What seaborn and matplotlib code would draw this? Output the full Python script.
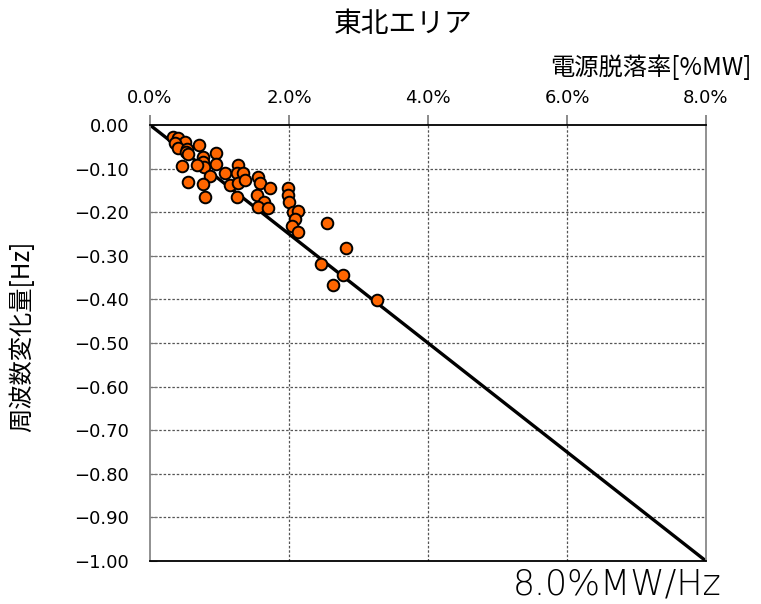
import numpy as np
import pandas as pd
import seaborn as sns
import matplotlib.pyplot as plt
from matplotlib.ticker import FuncFormatter, MultipleLocator

# 電源脱落率 [%MW] と 周波数変化量 [Hz]
drop_rate = [0.335, 0.407, 0.504, 0.360, 0.407, 0.528, 0.514, 0.551, 0.709, 0.767,
             0.767, 0.945, 0.945, 0.781, 0.672, 0.456, 1.079, 0.863, 1.151, 0.551,
             0.767, 0.791, 1.262, 1.247, 1.342, 1.270, 1.367, 1.247, 1.550, 1.583,
             1.727, 1.535, 1.645, 1.558, 1.702, 1.981, 1.981, 2.000, 2.062, 2.134,
             2.086, 2.039, 2.134, 2.542, 2.820, 2.456, 2.773, 2.637, 3.262]
freq_change = [-0.027, -0.029, -0.038, -0.042, -0.052, -0.055, -0.061, -0.067, -0.047, -0.073,
               -0.084, -0.065, -0.090, -0.096, -0.092, -0.093, -0.111, -0.116, -0.138, -0.130,
               -0.136, -0.164, -0.092, -0.111, -0.111, -0.132, -0.126, -0.164, -0.119, -0.134,
               -0.145, -0.161, -0.176, -0.187, -0.191, -0.145, -0.161, -0.177, -0.199, -0.197,
               -0.216, -0.232, -0.245, -0.224, -0.283, -0.319, -0.344, -0.367, -0.401]

# 系統定数 8.0 %MW/Hz の直線
system_constant = 8.0
line_x = [0.0, 8.0]

x_ticks = [0, 2, 4, 6, 8]
title = "東北エリア"
x_label = "電源脱落率[%MW]"
y_label = "周波数変化量[Hz]"
line_label = "8.0%MW/Hz"

df = pd.DataFrame({"rate": drop_rate, "df": freq_change})
line_df = pd.DataFrame({"rate": line_x, "df": [-v / system_constant for v in line_x]})

sns.set_style("white")
plt.rcParams['font.family'] = ['Noto Sans CJK JP', 'DejaVu Sans']
plt.rcParams['text.color'] = 'black'
plt.rcParams['xtick.labelcolor'] = 'black'
plt.rcParams['ytick.labelcolor'] = 'black'

fig = plt.figure(figsize=(7.61, 6.04), dpi=100)
ax = fig.add_axes([150 / 761, 1 - 561 / 604, 556 / 761, 436 / 604])

# グリッド（破線）
for v in [2, 4, 6]:
    ax.axvline(v, color='#555555', linestyle=(0, (2, 1.5)), linewidth=0.9, zorder=0)
for v in np.arange(1, 10) * -0.1:
    ax.axhline(v, color='#555555', linestyle=(0, (2, 1.5)), linewidth=0.9, zorder=0)

sns.lineplot(data=line_df, x="rate", y="df", color='black', linewidth=2.4, ax=ax, zorder=2)
sns.scatterplot(data=df, x="rate", y="df", color='#FF6600', edgecolor='black',
                linewidth=1.4, s=70, ax=ax, zorder=3)

ax.set_xlim(0, 8)
ax.set_ylim(-1.0, 0.0)
ax.set_xticks(x_ticks)
ax.xaxis.tick_top()
ax.xaxis.set_major_formatter(FuncFormatter(lambda v, p: f"{v:.1f}%"))
ax.yaxis.set_major_locator(MultipleLocator(0.1))


def fmt_y(v, p):
    s = f"{v:.2f}"
    if s == "-0.00":
        s = "0.00"
    return s.replace('-', '\u2212')


ax.yaxis.set_major_formatter(FuncFormatter(fmt_y))
ax.tick_params(axis='x', direction='out', length=7, color='#777777', width=1.2,
               labelsize=13, pad=6, top=True, bottom=False, labelcolor='black')
ax.tick_params(axis='y', direction='in', length=5, color='#777777', labelsize=13, pad=15,
               left=True, labelcolor='black')
for lab in ax.get_xticklabels() + ax.get_yticklabels():
    lab.set_family('DejaVu Sans')
ax.set_xlabel("")
ax.set_ylabel("")

for side in ['top', 'bottom']:
    ax.spines[side].set_color('black')
    ax.spines[side].set_linewidth(1.3)
for side in ['left', 'right']:
    ax.spines[side].set_color('#888888')
    ax.spines[side].set_linewidth(1.3)

fig.text(403 / 761, 1 - 24 / 604, title, ha='center', va='center', fontsize=20, color='black')
fig.text(752 / 761, 1 - 68 / 604, x_label, ha='right', va='center', fontsize=17.5, color='black')
fig.text(22 / 761, 1 - 336 / 604, y_label, ha='center', va='center', rotation=90,
         fontsize=17.5, color='black')
fig.text(617 / 761, 1 - 585 / 604, line_label, ha='center', va='center', fontsize=25,
         family='DejaVu Sans', fontweight='ultralight', color='black')

fig.savefig("out.png", dpi=100)
